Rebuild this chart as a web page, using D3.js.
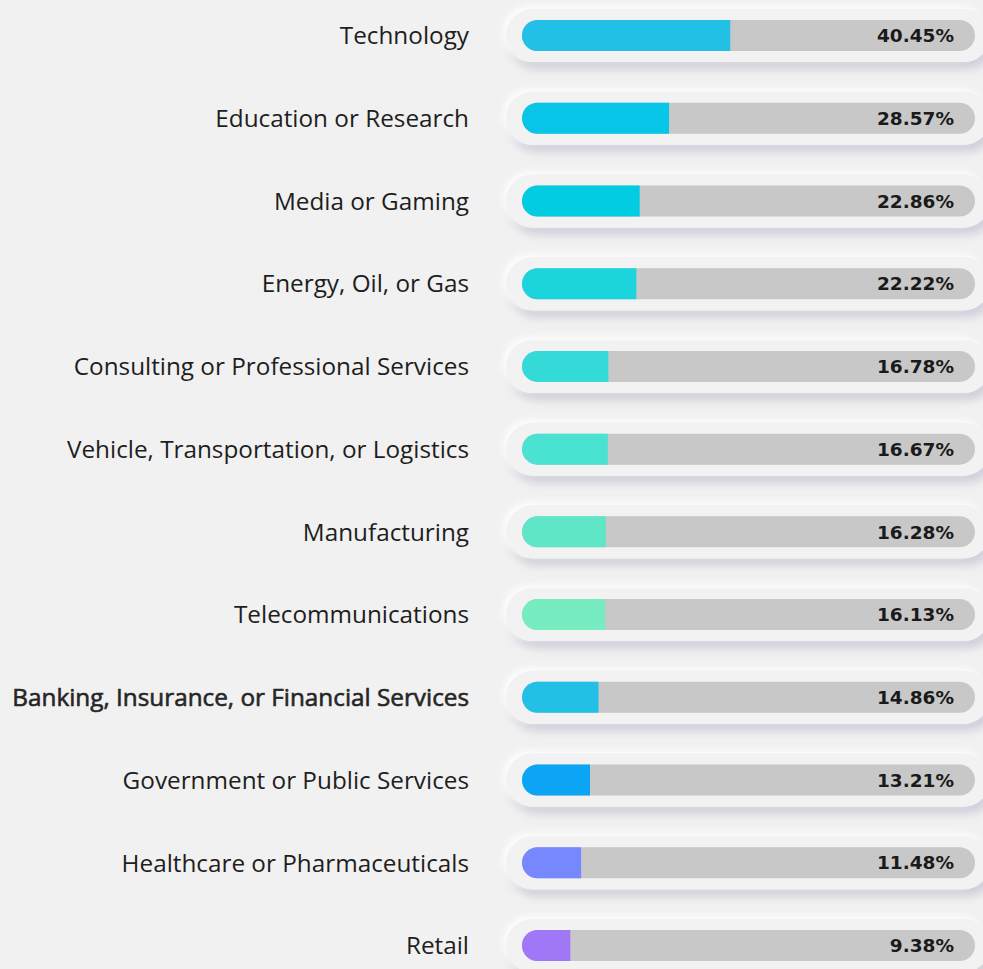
<!DOCTYPE html>
<html>
<head>
<meta charset="utf-8">
<script src="https://cdn.jsdelivr.net/npm/d3@7"></script>
<style>
  html, body { margin: 0; padding: 0; background: #f1f1f1; }
  svg { display: block; }
</style>
</head>
<body>
<svg id="chart"></svg>
<script>
// industries, top to bottom
let categories = [
    "Technology",
    "Education or Research",
    "Media or Gaming",
    "Energy, Oil, or Gas",
    "Consulting or Professional Services",
    "Vehicle, Transportation, or Logistics",
    "Manufacturing",
    "Telecommunications",
    "Banking, Insurance, or Financial Services",
    "Government or Public Services",
    "Healthcare or Pharmaceuticals",
    "Retail"
];
let values = [40.45, 28.57, 22.86, 22.22, 16.78, 16.67, 16.28, 16.13, 14.86, 13.21, 11.48, 9.38];
let barColors = ["#22c0e6", "#07c5e6", "#02cce1", "#1cd5dc", "#33dad8", "#4ae2d0",
                 "#5ee6c6", "#77ecc0", "#22c0e6", "#0ca4f5", "#7788ff", "#a077f7"];
let highlighted = ["Banking, Insurance, or Financial Services"];

let width = 983;
let height = 969;

let svg = d3.select("#chart")
    .attr("width", width)
    .attr("height", height);

let defs = svg.append("defs");
let filter = defs.append("filter")
    .attr("id", "soft")
    .attr("x", "-10%").attr("y", "-60%")
    .attr("width", "120%").attr("height", "220%");
filter.append("feDropShadow")
    .attr("dx", 4).attr("dy", 7)
    .attr("stdDeviation", 5)
    .attr("flood-color", "#b0b0c6")
    .attr("flood-opacity", 0.55)
    .attr("result", "dark");
filter.append("feDropShadow")
    .attr("in", "SourceGraphic")
    .attr("dx", -3).attr("dy", -3)
    .attr("stdDeviation", 3)
    .attr("flood-color", "#ffffff")
    .attr("flood-opacity", 0.9)
    .attr("result", "light");
let merge = filter.append("feMerge");
merge.append("feMergeNode").attr("in", "dark");
merge.append("feMergeNode").attr("in", "light");
merge.append("feMergeNode").attr("in", "SourceGraphic");

let barLeft = 522;
let barWidth = 453;
let barH = 31;

let yScale = d3.scalePoint()
    .domain(categories)
    .range([35.5, 945.5]);

let xScale = d3.scaleLinear()
    .domain([0, 88])
    .range([0, barWidth]);

let rows = svg.selectAll("g.row")
    .data(categories)
    .enter()
    .append("g")
    .attr("class", "row")
    .attr("transform", d => "translate(0," + yScale(d) + ")");

// raised pill behind each bar
rows.append("rect")
    .attr("x", 506)
    .attr("y", -26.5)
    .attr("width", 484)
    .attr("height", 53)
    .attr("rx", 26.5)
    .attr("fill", "#f2f2f3")
    .attr("filter", "url(#soft)");

// grey track
rows.append("rect")
    .attr("x", barLeft)
    .attr("y", -barH / 2)
    .attr("width", barWidth)
    .attr("height", barH)
    .attr("rx", barH / 2)
    .attr("fill", "#c8c8c8");

// coloured fill, rounded on the left only
rows.append("path")
    .attr("fill", (d, i) => barColors[i])
    .attr("d", (d, i) => {
        let w = xScale(values[i]);
        let r = barH / 2;
        let p = d3.path();
        p.moveTo(barLeft + w, -r);
        p.lineTo(barLeft + r, -r);
        p.arc(barLeft + r, 0, r, -Math.PI / 2, Math.PI / 2, true);
        p.lineTo(barLeft + w, r);
        p.closePath();
        return p.toString();
    });

rows.append("text")
    .attr("x", 469)
    .attr("y", 0)
    .attr("dy", "0.36em")
    .attr("text-anchor", "end")
    .attr("font-family", "'Open Sans', sans-serif")
    .attr("font-size", 24.3)
    .attr("fill", d => highlighted.includes(d) ? "#262626" : "#1e1e1e")
    .attr("stroke", d => highlighted.includes(d) ? "#262626" : "none")
    .attr("stroke-width", 0.6)
    .text(d => d);

rows.append("text")
    .attr("x", 954)
    .attr("y", 0)
    .attr("dy", "0.36em")
    .attr("text-anchor", "end")
    .attr("font-family", "'DejaVu Sans', sans-serif")
    .attr("font-size", 18.5)
    .attr("font-weight", 700)
    .attr("fill", "#1a1a1a")
    .text((d, i) => values[i].toFixed(2) + "%");
</script>
</body>
</html>
